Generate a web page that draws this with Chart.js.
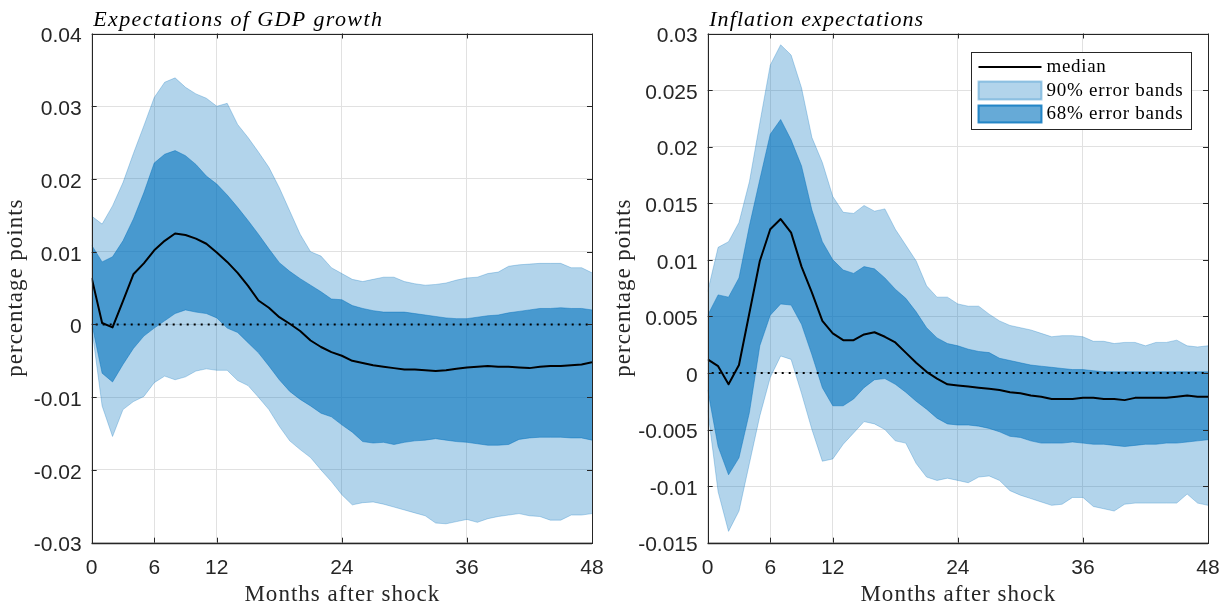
<!DOCTYPE html>
<html>
<head>
<meta charset="utf-8">
<title>Impulse responses of expectations</title>
<script src="https://cdn.jsdelivr.net/npm/chart.js@4.4.1/dist/chart.umd.min.js"></script>
<style>
  html, body { margin: 0; padding: 0; background: #ffffff; }
  #wrap { position: relative; width: 1225px; height: 608px; overflow: hidden; }
  canvas { position: absolute; top: 0; }
</style>
</head>
<body>
<div id="wrap">
  <canvas id="gdp" width="612" height="608" style="left:0px"></canvas>
  <canvas id="infl" width="613" height="608" style="left:612px"></canvas>
</div>
<script>
// Horizon: months after the shock
const MONTHS = Array.from({ length: 49 }, (_, i) => i);
const X_TICKS = [0, 6, 12, 24, 36, 48];

// Expectations of GDP growth (percentage points)
const GDP_Y_TICKS = [-0.03, -0.02, -0.01, 0, 0.01, 0.02, 0.03, 0.04];
const GDP_MEDIAN = [
  0.0064, 0.0002, -0.0004, 0.0032, 0.0069, 0.0084, 0.0102, 0.0115, 0.0125, 0.0123,
  0.0118, 0.0111, 0.0099, 0.0086, 0.0071, 0.0053, 0.0033, 0.0023, 0.0010, 0.0001,
  -0.0009, -0.0022, -0.0031, -0.0038, -0.0043, -0.0050, -0.0053, -0.0056, -0.0058, -0.0060,
  -0.0062, -0.0062, -0.0063, -0.0064, -0.0063, -0.0061, -0.0059, -0.0058, -0.0057, -0.0058,
  -0.0058, -0.0059, -0.0060, -0.0058, -0.0057, -0.0057, -0.0056, -0.0055, -0.0052
];
const GDP_UPPER68 = [
  0.0109, 0.0086, 0.0093, 0.0115, 0.0145, 0.0181, 0.0222, 0.0234, 0.0239, 0.0232,
  0.0220, 0.0204, 0.0193, 0.0178, 0.0161, 0.0143, 0.0124, 0.0104, 0.0085, 0.0073,
  0.0063, 0.0054, 0.0045, 0.0035, 0.0034, 0.0026, 0.0022, 0.0019, 0.0017, 0.0017,
  0.0017, 0.0015, 0.0013, 0.0011, 0.0009, 0.0008, 0.0008, 0.0010, 0.0012, 0.0013,
  0.0016, 0.0018, 0.0020, 0.0022, 0.0022, 0.0023, 0.0022, 0.0022, 0.0020
];
const GDP_LOWER68 = [
  0.0002, -0.0067, -0.0079, -0.0055, -0.0033, -0.0016, -0.0005, 0.0005, 0.0015, 0.0020,
  0.0017, 0.0015, 0.0009, -0.0005, -0.0011, -0.0025, -0.0039, -0.0057, -0.0076, -0.0092,
  -0.0103, -0.0112, -0.0122, -0.0127, -0.0138, -0.0148, -0.0161, -0.0163, -0.0162, -0.0165,
  -0.0162, -0.0160, -0.0159, -0.0157, -0.0159, -0.0161, -0.0162, -0.0164, -0.0166, -0.0166,
  -0.0165, -0.0158, -0.0156, -0.0155, -0.0155, -0.0155, -0.0156, -0.0156, -0.0159
];
const GDP_UPPER90 = [
  0.0149, 0.0138, 0.0163, 0.0195, 0.0235, 0.0273, 0.0312, 0.0333, 0.0339, 0.0326,
  0.0317, 0.0311, 0.0300, 0.0304, 0.0275, 0.0257, 0.0237, 0.0216, 0.0188, 0.0156,
  0.0124, 0.0100, 0.0094, 0.0078, 0.0070, 0.0062, 0.0059, 0.0062, 0.0065, 0.0065,
  0.0059, 0.0056, 0.0054, 0.0055, 0.0057, 0.0061, 0.0064, 0.0065, 0.0070, 0.0072,
  0.0080, 0.0082, 0.0083, 0.0084, 0.0084, 0.0084, 0.0078, 0.0078, 0.0071
];
const GDP_LOWER90 = [
  -0.0004, -0.0112, -0.0154, -0.0117, -0.0106, -0.0099, -0.0080, -0.0071, -0.0076, -0.0072,
  -0.0064, -0.0061, -0.0063, -0.0063, -0.0077, -0.0084, -0.0100, -0.0117, -0.0140, -0.0160,
  -0.0172, -0.0183, -0.0200, -0.0216, -0.0234, -0.0248, -0.0245, -0.0244, -0.0247, -0.0251,
  -0.0255, -0.0259, -0.0263, -0.0273, -0.0274, -0.0271, -0.0268, -0.0272, -0.0267, -0.0264,
  -0.0262, -0.0260, -0.0263, -0.0264, -0.0269, -0.0269, -0.0262, -0.0262, -0.0260
];

// Inflation expectations (percentage points)
const INF_Y_TICKS = [-0.015, -0.01, -0.005, 0, 0.005, 0.01, 0.015, 0.02, 0.025, 0.03];
const INF_MEDIAN = [
  0.0012, 0.0006, -0.0010, 0.0007, 0.0053, 0.0099, 0.0127, 0.0136, 0.0124, 0.0094,
  0.0071, 0.0046, 0.0035, 0.0029, 0.0029, 0.0034, 0.0036, 0.0032, 0.0027, 0.0018,
  0.0009, 0.0001, -0.0005, -0.0010, -0.0011, -0.0012, -0.0013, -0.0014, -0.0015, -0.0017,
  -0.0018, -0.0020, -0.0021, -0.0023, -0.0023, -0.0023, -0.0022, -0.0022, -0.0023, -0.0023,
  -0.0024, -0.0022, -0.0022, -0.0022, -0.0022, -0.0021, -0.0020, -0.0021, -0.0021
];
const INF_UPPER68 = [
  0.0051, 0.0069, 0.0067, 0.0084, 0.0130, 0.0171, 0.0211, 0.0224, 0.0206, 0.0183,
  0.0144, 0.0116, 0.0100, 0.0091, 0.0088, 0.0094, 0.0092, 0.0084, 0.0074, 0.0066,
  0.0054, 0.0040, 0.0031, 0.0026, 0.0024, 0.0021, 0.0019, 0.0018, 0.0013, 0.0011,
  0.0009, 0.0007, 0.0006, 0.0005, 0.0004, 0.0003, 0.0003, 0.0002, 0.0001, 0.0001,
  0.0001, 0.0001, 0.0001, 0.0001, 0.0001, 0.0001, 0.0001, 0.0001, 0.0001
];
const INF_LOWER68 = [
  -0.0015, -0.0065, -0.0090, -0.0075, -0.0035, 0.0024, 0.0051, 0.0061, 0.0060, 0.0043,
  0.0016, -0.0013, -0.0029, -0.0029, -0.0023, -0.0013, -0.0006, -0.0005, -0.0010, -0.0017,
  -0.0025, -0.0032, -0.0040, -0.0045, -0.0046, -0.0046, -0.0047, -0.0049, -0.0052, -0.0056,
  -0.0057, -0.0060, -0.0062, -0.0062, -0.0062, -0.0061, -0.0062, -0.0063, -0.0063, -0.0064,
  -0.0065, -0.0064, -0.0063, -0.0063, -0.0062, -0.0062, -0.0061, -0.0060, -0.0059
];
const INF_UPPER90 = [
  0.0072, 0.0111, 0.0116, 0.0133, 0.0169, 0.0221, 0.0272, 0.0290, 0.0281, 0.0252,
  0.0208, 0.0186, 0.0156, 0.0142, 0.0141, 0.0148, 0.0143, 0.0145, 0.0127, 0.0113,
  0.0099, 0.0077, 0.0067, 0.0067, 0.0061, 0.0059, 0.0059, 0.0052, 0.0046, 0.0042,
  0.0040, 0.0038, 0.0035, 0.0032, 0.0033, 0.0033, 0.0032, 0.0028, 0.0028, 0.0026,
  0.0027, 0.0027, 0.0024, 0.0027, 0.0027, 0.0029, 0.0024, 0.0023, 0.0024
];
const INF_LOWER90 = [
  -0.0033, -0.0105, -0.0140, -0.0122, -0.0080, -0.0038, -0.0004, 0.0015, 0.0012, -0.0018,
  -0.0050, -0.0078, -0.0076, -0.0063, -0.0053, -0.0043, -0.0045, -0.0050, -0.0060, -0.0062,
  -0.0080, -0.0092, -0.0095, -0.0093, -0.0095, -0.0097, -0.0092, -0.0091, -0.0095, -0.0104,
  -0.0108, -0.0111, -0.0114, -0.0117, -0.0116, -0.0110, -0.0110, -0.0118, -0.0120, -0.0122,
  -0.0116, -0.0115, -0.0115, -0.0115, -0.0115, -0.0115, -0.0107, -0.0115, -0.0117
];

const LEGEND_LABELS = ['median', '90% error bands', '68% error bands'];

// Styling (MATLAB-like defaults)
const BLUE_90 = 'rgba(0,114,189,0.30)';
const BLUE_68 = 'rgba(0,114,189,0.60)';
const EDGE_90 = 'rgba(0,114,189,0.28)';
const EDGE_68 = 'rgba(0,114,189,0.45)';
const AXIS = '#262626';
const GRID = '#e1e1e1';
const SANS = '"Liberation Sans", Arial, Helvetica, sans-serif';
const SERIF = '"Liberation Serif", "Times New Roman", serif';

function pts(arr) { return arr.map((v, i) => ({ x: MONTHS[i], y: v })); }

// draw text stretched to a given width using letter spacing
function spacedText(ctx, text, x, y, width, align) {
  ctx.letterSpacing = '0px';
  const w = ctx.measureText(text).width;
  const sp = Math.max(0, (width - w) / text.length);
  ctx.letterSpacing = sp.toFixed(2) + 'px';
  ctx.textAlign = align;
  ctx.fillText(text, align === 'center' ? x + sp / 2 : x, y);
  ctx.letterSpacing = '0px';
}

const framePlugin = {
  id: 'matlabFrame',
  afterDatasetsDraw(chart, args, opts) {
    const { ctx, chartArea: a, scales } = chart;
    const ys = scales.y, xs = scales.x;
    ctx.save();
    // dotted zero line
    const y0 = ys.getPixelForValue(0);
    ctx.strokeStyle = '#000';
    ctx.lineWidth = 2;
    ctx.setLineDash([2, 5]);
    ctx.beginPath();
    ctx.moveTo(a.left + 4, y0);
    ctx.lineTo(a.right, y0);
    ctx.stroke();
    ctx.setLineDash([]);
    // box
    ctx.strokeStyle = AXIS;
    ctx.lineWidth = 1;
    ctx.strokeRect(Math.round(a.left) + 0.5, Math.round(a.top) + 0.5,
      Math.round(a.right) - Math.round(a.left), Math.round(a.bottom) - Math.round(a.top));
    ctx.lineWidth = 1.4;
    ctx.beginPath();
    ctx.moveTo(a.left, Math.round(a.bottom) + 0.5);
    ctx.lineTo(a.right, Math.round(a.bottom) + 0.5);
    ctx.stroke();
    // inward tick marks on all four sides
    ctx.lineWidth = 1;
    ctx.beginPath();
    const tl = 5;
    xs.ticks.forEach(t => {
      const px = Math.round(xs.getPixelForValue(t.value)) + 0.5;
      ctx.moveTo(px, a.bottom); ctx.lineTo(px, a.bottom - tl);
      ctx.moveTo(px, a.top); ctx.lineTo(px, a.top + tl);
    });
    ys.ticks.forEach(t => {
      const py = Math.round(ys.getPixelForValue(t.value)) + 0.5;
      ctx.moveTo(a.left, py); ctx.lineTo(a.left + tl, py);
      ctx.moveTo(a.right, py); ctx.lineTo(a.right - tl, py);
    });
    ctx.stroke();
    ctx.restore();
  },
  afterDraw(chart, args, opts) {
    const { ctx, chartArea: a } = chart;
    ctx.save();
    // panel title
    ctx.fillStyle = '#000';
    ctx.font = 'italic 22px ' + SERIF;
    ctx.textBaseline = 'alphabetic';
    spacedText(ctx, opts.title, a.left + 1.5, 26, opts.titleWidth, 'left');
    // x axis title
    ctx.fillStyle = AXIS;
    ctx.font = '23px ' + SERIF;
    spacedText(ctx, 'Months after shock', (a.left + a.right) / 2, 601, 196, 'center');
    // y axis title
    ctx.save();
    ctx.translate(opts.yTitleX, (a.top + a.bottom) / 2);
    ctx.rotate(-Math.PI / 2);
    spacedText(ctx, 'percentage points', 0, 0, 178, 'center');
    ctx.restore();
    // legend
    if (opts.legend) {
      const bx = Math.round(a.right - 237.5) + 0.5, by = Math.round(a.top + 18) + 0.5;
      const bw = 220, bh = 77;
      ctx.fillStyle = '#fff';
      ctx.fillRect(bx, by, bw, bh);
      ctx.strokeStyle = AXIS;
      ctx.lineWidth = 1;
      ctx.strokeRect(bx, by, bw, bh);
      const sx = bx + 7, sw = 63;
      // median line sample
      ctx.strokeStyle = '#000';
      ctx.lineWidth = 2;
      ctx.beginPath();
      ctx.moveTo(sx, by + 14.5); ctx.lineTo(sx + sw, by + 14.5);
      ctx.stroke();
      // band samples
      ctx.fillStyle = BLUE_90;
      ctx.fillRect(sx, by + 29, sw, 18);
      ctx.strokeStyle = 'rgba(0,114,189,0.35)';
      ctx.strokeRect(sx, by + 29, sw, 18);
      ctx.fillStyle = BLUE_68;
      ctx.fillRect(sx, by + 53, sw, 17);
      ctx.strokeStyle = 'rgba(0,114,189,0.8)';
      ctx.strokeRect(sx, by + 53, sw, 17);
      ctx.fillStyle = '#000';
      ctx.font = '19px ' + SERIF;
      ctx.textBaseline = 'middle';
      const tx = sx + sw + 5;
      spacedText(ctx, LEGEND_LABELS[0], tx, by + 15, 60, 'left');
      spacedText(ctx, LEGEND_LABELS[1], tx, by + 39, 137, 'left');
      spacedText(ctx, LEGEND_LABELS[2], tx, by + 62, 137, 'left');
    }
    ctx.restore();
  }
};

function fmtTick(v) { return String(+Number(v).toFixed(4)); }

function makePanel(canvasId, series, yTicks, layout) {
  const datasets = [
    { label: 'median', data: pts(series.median), borderColor: '#000', borderWidth: 2, fill: false },
    { label: 'upper 68', data: pts(series.upper68), borderColor: EDGE_68, borderWidth: 1,
      backgroundColor: BLUE_68, fill: '+1' },
    { label: 'lower 68', data: pts(series.lower68), borderColor: EDGE_68, borderWidth: 1, fill: false },
    { label: 'upper 90', data: pts(series.upper90), borderColor: EDGE_90, borderWidth: 1,
      backgroundColor: BLUE_90, fill: '+1' },
    { label: 'lower 90', data: pts(series.lower90), borderColor: EDGE_90, borderWidth: 1, fill: false }
  ];
  return new Chart(document.getElementById(canvasId), {
    type: 'line',
    data: { datasets },
    plugins: [framePlugin],
    options: {
      responsive: false,
      animation: false,
      devicePixelRatio: 1,
      layout: { padding: { left: 0, right: layout.padRight, top: 33.5, bottom: 0 } },
      elements: { point: { radius: 0 }, line: { tension: 0, borderJoinStyle: 'round' } },
      plugins: {
        legend: { display: false },
        tooltip: { enabled: false },
        matlabFrame: layout
      },
      scales: {
        x: {
          type: 'linear', min: 0, max: 48,
          afterBuildTicks: s => { s.ticks = X_TICKS.map(v => ({ value: v })); },
          afterFit: s => { s.height = 65.3; s.paddingLeft = 0; s.paddingRight = 0; },
          grid: { color: GRID, lineWidth: 1, drawTicks: false },
          border: { display: false },
          ticks: { font: { family: SANS, size: 21 }, color: AXIS, padding: 13,
                   maxRotation: 0, autoSkip: false, callback: v => String(v) }
        },
        y: {
          type: 'linear', min: yTicks[0], max: yTicks[yTicks.length - 1],
          afterBuildTicks: s => { s.ticks = yTicks.map(v => ({ value: v })); },
          afterFit: s => { s.width = layout.yWidth; s.paddingTop = 0; s.paddingBottom = 0; },
          grid: { color: GRID, lineWidth: 1, drawTicks: false },
          border: { display: false },
          ticks: { font: { family: SANS, size: 21 }, color: AXIS, padding: 10, labelOffset: 3,
                   autoSkip: false, callback: v => fmtTick(v) }
        }
      }
    }
  });
}

makePanel('gdp',
  { median: GDP_MEDIAN, upper68: GDP_UPPER68, lower68: GDP_LOWER68, upper90: GDP_UPPER90, lower90: GDP_LOWER90 },
  GDP_Y_TICKS,
  { title: 'Expectations of GDP growth', titleWidth: 290, yWidth: 91.7, padRight: 20, yTitleX: 22, legend: false });

makePanel('infl',
  { median: INF_MEDIAN, upper68: INF_UPPER68, lower68: INF_LOWER68, upper90: INF_UPPER90, lower90: INF_LOWER90 },
  INF_Y_TICKS,
  { title: 'Inflation expectations', titleWidth: 215, yWidth: 95.7, padRight: 17, yTitleX: 18, legend: true });
</script>
</body>
</html>
